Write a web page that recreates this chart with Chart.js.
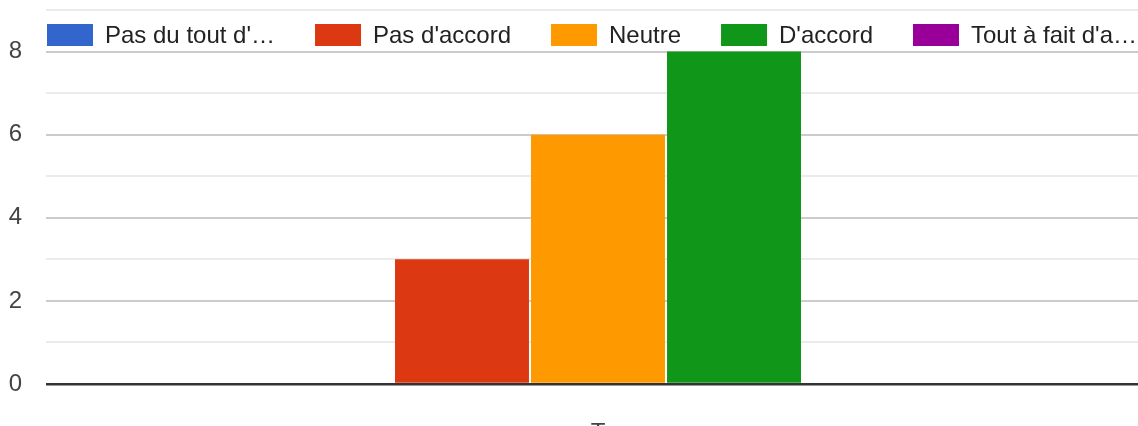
<!DOCTYPE html>
<html>
<head>
<meta charset="utf-8">
<script src="https://cdn.jsdelivr.net/npm/chart.js@4/dist/chart.umd.min.js"></script>
<style>
  html, body { margin: 0; padding: 0; background: #fff; overflow: hidden; }
  #wrap { width: 1150px; height: 452px; }
</style>
</head>
<body>
<div id="wrap"><canvas id="chart"></canvas></div>
<script>
// données
const categories = ["T"];
const seriesLabels = ["Pas du tout d'accord", "Pas d'accord", "Neutre", "D'accord", "Tout à fait d'accord"];
const seriesValues = [[0], [3], [6], [8], [0]];
const seriesColors = ["#3366cc", "#dc3912", "#ff9900", "#109618", "#990099"];
const yTicks = [0, 2, 4, 6, 8];

const FONT = "'Liberation Sans', Arial, sans-serif";

// coupe le texte de la légende comme Google Forms
function shorten(ctx, text, maxW) {
  if (ctx.measureText(text).width <= maxW) return text;
  let t = text;
  while (t.length > 1 && ctx.measureText(t + "…").width > maxW) t = t.slice(0, -1);
  return t + "…";
}

// légende dessinée à la main, posée sur la zone du graphique
const topLegend = {
  id: "topLegend",
  afterDraw(chart) {
    const { ctx, chartArea } = chart;
    ctx.save();
    ctx.font = `24px ${FONT}`;
    ctx.textBaseline = "middle";
    let x = chartArea.left + 1;
    const y = chartArea.top + 14;
    chart.data.datasets.forEach((ds) => {
      const text = shorten(ctx, ds.label, 172);
      ctx.fillStyle = ds.backgroundColor;
      ctx.fillRect(x, y, 46, 22);
      ctx.fillStyle = "#222";
      ctx.fillText(text, x + 58, y + 12);
      x += 58 + ctx.measureText(text).width + 40;
    });
    ctx.restore();
  },
};

new Chart(document.getElementById("chart"), {
  type: "bar",
  data: {
    labels: categories,
    datasets: seriesLabels.map((label, i) => ({
      label,
      data: seriesValues[i],
      backgroundColor: seriesColors[i],
      borderWidth: 0,
      categoryPercentage: 0.616,
      barPercentage: 0.985,
    })),
  },
  options: {
    responsive: true,
    maintainAspectRatio: false,
    animation: false,
    layout: { padding: { left: 0, top: 10, right: 0, bottom: 0 } },
    plugins: {
      tooltip: { enabled: false },
      legend: { display: false },
    },
    scales: {
      x: {
        afterFit(scale) { scale.height = 68; },
        grid: { display: false },
        border: { display: false },
        ticks: { color: "#444", padding: 27, font: { family: FONT, size: 24 } },
      },
      y: {
        min: 0,
        max: 9,
        border: { display: false },
        afterFit(scale) { scale.paddingTop = 0; scale.width = 46; },
        grid: {
          drawTicks: false,
          color: (c) => (c.tick.value === 0 ? "#333" : c.tick.value % 2 === 0 ? "#cccccc" : "#ebebeb"),
          lineWidth: (c) => (c.tick.value === 0 ? 2.5 : 2),
        },
        ticks: {
          stepSize: 1,
          autoSkip: false,
          padding: 24,
          color: "#444",
          font: { family: FONT, size: 24 },
          callback: (v) => (yTicks.includes(v) ? String(v) : ""),
        },
      },
    },
  },
  plugins: [topLegend],
});
</script>
</body>
</html>
